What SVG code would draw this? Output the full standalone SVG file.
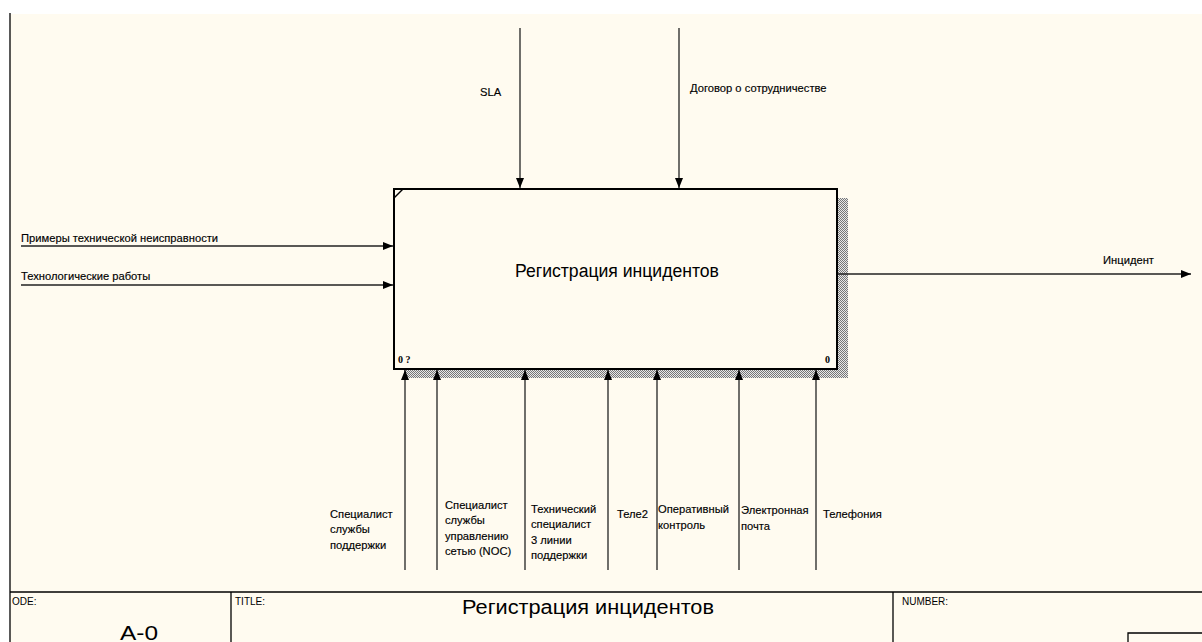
<svg xmlns="http://www.w3.org/2000/svg" width="1202" height="642" viewBox="0 0 1202 642">
<defs>
<style>
.lbl{font-family:"Liberation Sans",Arial,sans-serif;font-size:11.2px;fill:#000;stroke:#000;stroke-width:0.15}
.ln{stroke:#222;stroke-width:1.3;fill:none}
.frame{stroke:#000;stroke-width:1.3;fill:none}
.num{font-family:"Liberation Serif","Times New Roman",serif;font-size:10px;font-weight:bold;fill:#000}
.hdr{font-family:"Liberation Sans",Arial,sans-serif;font-size:10px;fill:#000}
</style>
<marker id="ah" viewBox="0 0 10 8" refX="10" refY="4" markerWidth="10" markerHeight="8" markerUnits="userSpaceOnUse" orient="auto">
<path d="M0,0 L10,4 L0,8 Z" fill="#000"/>
</marker>
<pattern id="hatch" width="2" height="2" patternUnits="userSpaceOnUse">
<rect width="2" height="2" fill="#e8e8e8"/>
<rect width="1" height="1" fill="#777"/>
<rect x="1" y="1" width="1" height="1" fill="#777"/>
</pattern>
</defs>
<rect width="1202" height="642" fill="#fff"/>
<rect x="10" y="14" width="1192" height="628" fill="#FFFBF0"/>

<g id="frame">
<line class="frame" x1="10" y1="13" x2="10" y2="642"/>
<line class="frame" x1="10" y1="592" x2="1202" y2="592" stroke="#333"/>
<line class="frame" x1="231" y1="592" x2="231" y2="642"/>
<line class="frame" x1="893" y1="592" x2="893" y2="642"/>
<polyline class="frame" points="1128,642 1128,633 1202,633"/>
<text class="hdr" x="12" y="605">ODE:</text>
<text class="hdr" x="235" y="605">TITLE:</text>
<text class="hdr" x="902" y="605">NUMBER:</text>
<text x="588" y="614" text-anchor="middle" textLength="252" lengthAdjust="spacingAndGlyphs" font-family="'Liberation Sans',Arial,sans-serif" font-size="20">Регистрация инцидентов</text>
<text x="139" y="640" text-anchor="middle" textLength="38" lengthAdjust="spacingAndGlyphs" font-family="'Liberation Sans',Arial,sans-serif" font-size="20">A-0</text>
</g>

<g id="node-A0">
<rect x="838" y="198" width="10" height="180" fill="url(#hatch)"/>
<rect x="404" y="369" width="444" height="9" fill="url(#hatch)"/>
<rect x="394" y="189" width="443" height="180" fill="#FFFBF0" stroke="#000" stroke-width="2"/>
<line x1="394" y1="198" x2="403" y2="189" stroke="#000" stroke-width="1.5"/>
<text x="617" y="277" text-anchor="middle" font-family="'Liberation Sans',Arial,sans-serif" font-size="17.6">Регистрация инцидентов</text>
<text class="num" x="398" y="363">0 ?</text>
<text class="num" x="825" y="363">0</text>
</g>

<g id="connectors">
<line class="ln" x1="520" y1="28" x2="520" y2="188" marker-end="url(#ah)"/>
<line class="ln" x1="679" y1="28" x2="679" y2="188" marker-end="url(#ah)"/>
<line class="ln" x1="21" y1="246" x2="393" y2="246" marker-end="url(#ah)"/>
<line class="ln" x1="21" y1="285" x2="393" y2="285" marker-end="url(#ah)"/>
<line class="ln" x1="838" y1="274" x2="1191" y2="274" marker-end="url(#ah)"/>
<line class="ln" x1="405" y1="570" x2="405" y2="370" marker-end="url(#ah)"/>
<line class="ln" x1="437" y1="570" x2="437" y2="370" marker-end="url(#ah)"/>
<line class="ln" x1="525" y1="570" x2="525" y2="370" marker-end="url(#ah)"/>
<line class="ln" x1="608" y1="570" x2="608" y2="370" marker-end="url(#ah)"/>
<line class="ln" x1="657" y1="570" x2="657" y2="370" marker-end="url(#ah)"/>
<line class="ln" x1="739" y1="570" x2="739" y2="370" marker-end="url(#ah)"/>
<line class="ln" x1="816" y1="570" x2="816" y2="370" marker-end="url(#ah)"/>
</g>

<g id="labels">
<text class="lbl" x="480" y="96">SLA</text>
<text class="lbl" x="690" y="92">Договор о сотрудничестве</text>
<text class="lbl" x="21" y="242">Примеры технической неисправности</text>
<text class="lbl" x="21" y="280">Технологические работы</text>
<text class="lbl" x="1103" y="264">Инцидент</text>
<text class="lbl" x="330" y="518">Специалист</text>
<text class="lbl" x="330" y="533">службы</text>
<text class="lbl" x="330" y="549">поддержки</text>
<text class="lbl" x="445" y="509">Специалист</text>
<text class="lbl" x="445" y="524">службы</text>
<text class="lbl" x="445" y="540">управлению</text>
<text class="lbl" x="445" y="555">сетью (NOC)</text>
<text class="lbl" x="531" y="513">Технический</text>
<text class="lbl" x="531" y="528">специалист</text>
<text class="lbl" x="531" y="544">3 линии</text>
<text class="lbl" x="531" y="559">поддержки</text>
<text class="lbl" x="617" y="518">Теле2</text>
<text class="lbl" x="658" y="513">Оперативный</text>
<text class="lbl" x="658" y="529">контроль</text>
<text class="lbl" x="741" y="514">Электронная</text>
<text class="lbl" x="741" y="530">почта</text>
<text class="lbl" x="823" y="518">Телефония</text>
</g>
</svg>
